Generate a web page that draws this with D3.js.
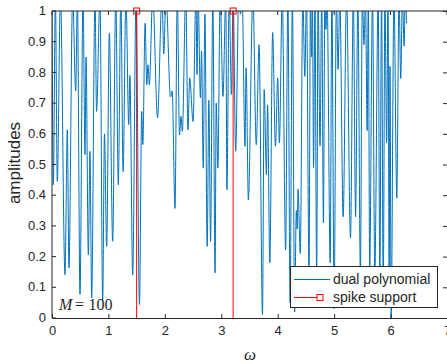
<!DOCTYPE html>
<html>
<head>
<meta charset="utf-8">
<script src="https://cdn.jsdelivr.net/npm/d3@7"></script>
<style>
  body { margin: 0; background: #fff; }
  text { font-family: "Liberation Sans", Arial, sans-serif; fill: #262626; }
</style>
</head>
<body>
<div id="chart"></div>
<script>
const omega = [
  0.000, 0.024, 0.060, 0.094, 0.150, 0.230, 0.272, 0.300, 0.366, 0.420,
  0.450, 0.496, 0.550, 0.585, 0.603, 0.644, 0.673, 0.703, 0.762, 0.790,
  0.850, 0.898, 0.930, 0.969, 1.016, 1.075, 1.130, 1.175, 1.220, 1.260,
  1.310, 1.360, 1.380, 1.430, 1.490, 1.550, 1.590, 1.610, 1.650, 1.680,
  1.700, 1.725, 1.785, 1.870, 1.950, 1.980, 2.020, 2.100, 2.130, 2.180,
  2.220, 2.260, 2.285, 2.310, 2.370, 2.410, 2.440, 2.500, 2.550, 2.570,
  2.590, 2.630, 2.650, 2.680, 2.710, 2.750, 2.780, 2.810, 2.850, 2.890,
  2.910, 2.940, 2.980, 3.030, 3.080, 3.100, 3.140, 3.180, 3.210, 3.255,
  3.310, 3.340, 3.370, 3.420, 3.440, 3.480, 3.560, 3.620, 3.670, 3.730,
  3.760, 3.800, 3.820, 3.860, 3.910, 3.960, 4.000, 4.030, 4.080, 4.140,
  4.180, 4.220, 4.260, 4.300, 4.330, 4.345, 4.360, 4.400, 4.445, 4.480,
  4.510, 4.555, 4.580, 4.600, 4.615, 4.635, 4.660, 4.690, 4.715, 4.750,
  4.780, 4.810, 4.835, 4.855, 4.875, 4.930, 4.960, 5.000, 5.040, 5.070,
  5.100, 5.160, 5.220, 5.290, 5.340, 5.380, 5.420, 5.465, 5.500, 5.530,
  5.555, 5.585, 5.605, 5.630, 5.680, 5.720, 5.780, 5.810, 5.840, 5.870,
  5.900, 5.930, 5.955, 5.975, 5.990, 6.010, 6.060, 6.110, 6.150, 6.180,
  6.210, 6.240, 6.260, 6.283
]
const amp = [
  1.00, 0.434, 1.05, 0.445, 1.05, 0.141, 0.613, 0.163, 1.05, 0.740,
  1.04, 0.077, 1.05, 0.532, 0.850, 0.206, 0.543, 0.065, 1.05, 0.673,
  1.05, 0.054, 0.600, 0.233, 0.928, 0.250, 1.05, 0.434, 1.05, 0.477,
  1.05, 0.630, 0.790, 0.140, 1.05, 0.044, 0.673, 0.565, 0.960, 0.760,
  0.825, 0.760, 1.05, 0.652, 1.05, 0.860, 1.05, 0.720, 0.740, 0.357,
  1.05, 0.596, 0.657, 0.608, 1.05, 0.613, 0.782, 0.640, 1.05, 0.793,
  1.05, 0.717, 0.870, 0.489, 0.990, 0.233, 0.710, 0.250, 1.05, 0.147,
  0.700, 0.489, 1.05, 0.722, 1.05, 0.418, 1.05, 0.728, 1.05, 0.543,
  1.05, 0.990, 1.05, 0.559, 0.815, 0.385, 1.05, 0.564, 0.890, 0.011,
  0.744, 0.467, 0.694, 0.180, 0.930, 0.559, 0.782, 0.570, 1.05, 0.222,
  1.05, 0.050, 1.05, 0.020, 0.350, 0.290, 0.420, 0.210, 1.05, 0.787,
  1.05, 0.150, 1.05, 0.850, 1.05, 0.490, 1.05, 0.120, 1.05, 0.560,
  1.05, 0.310, 1.05, 0.940, 1.05, 0.180, 1.05, 0.030, 1.05, 0.810,
  1.05, 0.330, 1.05, 0.260, 1.05, 0.330, 1.05, 0.150, 1.05, 0.890,
  1.05, 0.610, 1.05, 0.160, 1.05, 0.140, 1.05, 0.120, 1.05, 0.090,
  1.05, 0.570, 1.05, 0.100, 0.820, 0.000, 1.05, 0.390, 1.05, 0.780,
  1.05, 0.886, 1.05, 0.960
]
const spikeOmega = [1.5, 3.21]
const spikeAmp = [1, 1]
const xTicks = [0, 1, 2, 3, 4, 5, 6, 7]
const yTicks = [0, 0.1, 0.2, 0.3, 0.4, 0.5, 0.6, 0.7, 0.8, 0.9, 1]
const legendLabels = ["dual polynomial", "spike support"]

const width = 447, height = 364
const plotLeft = 52, plotTop = 11, plotRight = 447, plotBottom = 318
const blue = "#0072bd", red = "#ff0000", axisColor = "#262626"

const svg = d3.select("#chart").append("svg")
  .attr("width", width)
  .attr("height", height)

const x = d3.scaleLinear().domain([0, 7]).range([plotLeft, plotRight])
const y = d3.scaleLinear().domain([0, 1]).range([plotBottom, plotTop])

svg.append("clipPath").attr("id", "plotClip")
  .append("rect")
  .attr("x", plotLeft).attr("y", plotTop)
  .attr("width", plotRight - plotLeft).attr("height", plotBottom - plotTop)

const plot = svg.append("g").attr("clip-path", "url(#plotClip)")

const dual = omega.map((w, i) => ({ w: w, a: amp[i] }))
const line = d3.line()
  .x(d => x(d.w))
  .y(d => y(d.a))
  .curve(d3.curveMonotoneX)

plot.append("path")
  .datum(dual)
  .attr("fill", "none")
  .attr("stroke", blue)
  .attr("stroke-width", 1)
  .attr("d", line)

// spike support: a stem from 0 up to the amplitude, square marker on top
const spikes = spikeOmega.map((w, i) => ({ w: w, a: spikeAmp[i] }))
plot.selectAll(".spike")
  .data(spikes)
  .enter().append("line")
  .attr("class", "spike")
  .attr("x1", d => x(d.w)).attr("x2", d => x(d.w))
  .attr("y1", y(0)).attr("y2", d => y(d.a))
  .attr("stroke", red)
  .attr("stroke-width", 1)

svg.selectAll(".spikeMark")
  .data(spikes)
  .enter().append("rect")
  .attr("class", "spikeMark")
  .attr("x", d => x(d.w) - 3).attr("y", d => y(d.a) - 3)
  .attr("width", 6).attr("height", 6)
  .attr("fill", "none")
  .attr("stroke", red)
  .attr("stroke-width", 1)

// axes, MATLAB style box with inward ticks
function styleAxis(g) {
  g.select(".domain").attr("stroke", axisColor)
  g.selectAll(".tick line").attr("stroke", axisColor)
  g.selectAll(".tick text")
    .attr("fill", axisColor)
    .style("font-family", "'Liberation Sans', Arial, sans-serif")
    .style("font-size", "13px")
}

svg.append("g")
  .attr("transform", `translate(0,${plotBottom})`)
  .call(d3.axisBottom(x).tickValues(xTicks).tickFormat(d3.format("~g"))
    .tickSizeInner(-4).tickSizeOuter(0).tickPadding(8))
  .call(styleAxis)

svg.append("g")
  .attr("transform", `translate(0,${plotTop})`)
  .call(d3.axisTop(x).tickValues(xTicks).tickFormat("")
    .tickSizeInner(-4).tickSizeOuter(0).offset(0))
  .call(styleAxis)

svg.append("g")
  .attr("transform", `translate(${plotLeft},0)`)
  .call(d3.axisLeft(y).tickValues(yTicks).tickFormat(d3.format("~g"))
    .tickSizeInner(-4).tickSizeOuter(0).tickPadding(6).offset(0))
  .call(styleAxis)

svg.append("g")
  .attr("transform", `translate(${plotRight},0)`)
  .call(d3.axisRight(y).tickValues(yTicks).tickFormat("")
    .tickSizeInner(-4).tickSizeOuter(0))
  .call(styleAxis)

svg.selectAll(".domain").attr("fill", "none")

// axis labels
svg.append("text")
  .attr("transform", "translate(20,163) rotate(-90)")
  .attr("text-anchor", "middle")
  .style("font-size", "17px")
  .text("amplitudes")

svg.append("text")
  .attr("x", 250).attr("y", 360)
  .attr("text-anchor", "middle")
  .style("font-family", "'Liberation Serif', 'Times New Roman', serif")
  .style("font-style", "italic")
  .style("font-size", "17px")
  .text("ω")

// annotation M = 100
const note = svg.append("text")
  .attr("x", 59).attr("y", 310)
  .style("font-family", "'Liberation Serif', 'Times New Roman', serif")
  .style("font-size", "16px")
note.append("tspan").style("font-style", "italic").text("M")
note.append("tspan").attr("x", 75).text("=")
note.append("tspan").attr("x", 88.5).text("100")

// legend
const legend = svg.append("g")
legend.append("rect")
  .attr("x", 290.5).attr("y", 266.5)
  .attr("width", 147).attr("height", 41)
  .attr("fill", "#fff")
  .attr("stroke", axisColor)
  .attr("stroke-width", 1)

const legendRows = [279.5, 297.5]
legend.append("line")
  .attr("x1", 294).attr("x2", 330)
  .attr("y1", legendRows[0]).attr("y2", legendRows[0])
  .attr("stroke", blue).attr("stroke-width", 1)
legend.append("line")
  .attr("x1", 294).attr("x2", 317)
  .attr("y1", legendRows[1]).attr("y2", legendRows[1])
  .attr("stroke", red).attr("stroke-width", 1)
legend.append("rect")
  .attr("x", 317).attr("y", legendRows[1] - 3)
  .attr("width", 6).attr("height", 6)
  .attr("fill", "none").attr("stroke", red)

legend.selectAll(".legendText")
  .data(legendLabels)
  .enter().append("text")
  .attr("class", "legendText")
  .attr("x", 333)
  .attr("y", (d, i) => legendRows[i] + 4.5)
  .style("font-size", "14px")
  .text(d => d)
</script>
</body>
</html>
